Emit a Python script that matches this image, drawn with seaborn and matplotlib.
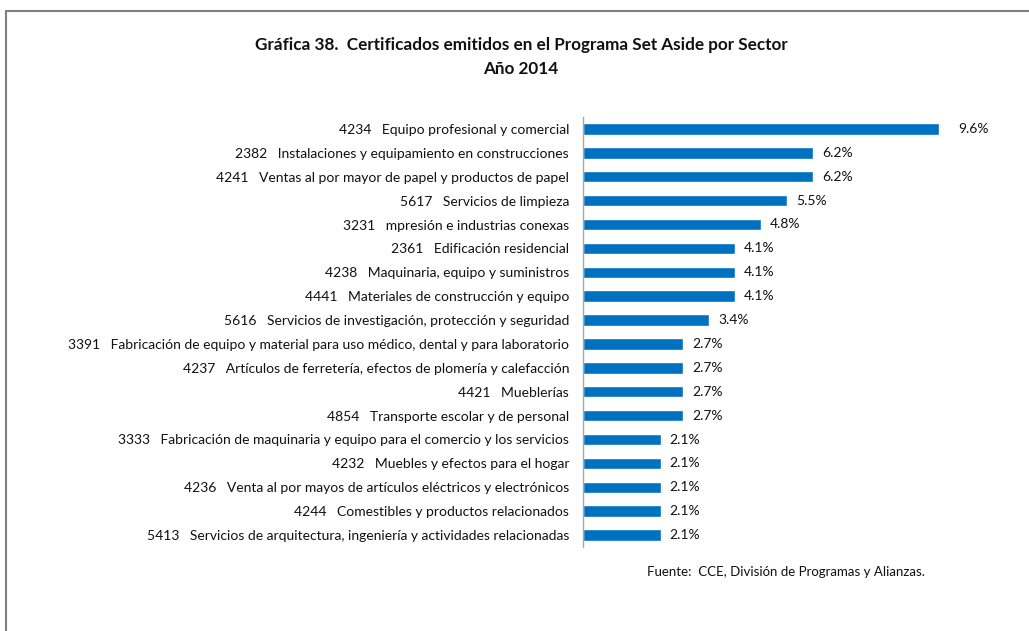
import matplotlib
matplotlib.use("Agg")
import matplotlib.pyplot as plt
from matplotlib.lines import Line2D
from matplotlib import font_manager
import seaborn as sns
import pandas as pd
import numpy as np

codes = ["4234", "2382", "4241", "5617", "3231", "2361", "4238", "4441", "5616",
         "3391", "4237", "4421", "4854", "3333", "4232", "4236", "4244", "5413"]
sectors = [
    "Equipo profesional y comercial",
    "Instalaciones y equipamiento en construcciones",
    "Ventas al por mayor de papel y productos de papel",
    "Servicios de limpieza",
    "mpresión e industrias conexas",
    "Edificación residencial",
    "Maquinaria, equipo y suministros",
    "Materiales de construcción y equipo",
    "Servicios de investigación, protección y seguridad",
    "Fabricación de equipo y material para uso médico, dental y para laboratorio",
    "Artículos de ferretería, efectos de plomería y calefacción",
    "Mueblerías",
    "Transporte escolar y de personal",
    "Fabricación de maquinaria y equipo para el comercio y los servicios",
    "Muebles y efectos para el hogar",
    "Venta al por mayos de artículos eléctricos y electrónicos",
    "Comestibles y productos relacionados",
    "Servicios de arquitectura, ingeniería y actividades relacionadas",
]
percent = [9.6, 6.2, 6.2, 5.5, 4.8, 4.1, 4.1, 4.1, 3.4,
           2.7, 2.7, 2.7, 2.7, 2.1, 2.1, 2.1, 2.1, 2.1]

title = "Gráfica 38.  Certificados emitidos en el Programa Set Aside por Sector\nAño 2014"
source = "Fuente:  CCE, División de Programas y Alianzas."

sns.set_theme(style="white")
installed = {f.name for f in font_manager.fontManager.ttflist}
family = next((f for f in ["Liberation Sans Narrow", "Lato", "Liberation Sans"] if f in installed),
              "DejaVu Sans")
plt.rcParams["font.family"] = [family, "DejaVu Sans"]

labels = [f"{c}   {s}" for c, s in zip(codes, sectors)]
df = pd.DataFrame({"sector": labels, "pct": percent})

W, H = 1029, 631
fig = plt.figure(figsize=(W / 100, H / 100), dpi=100)
fig.patch.set_facecolor("white")

# axes placed in pixel terms: left 583, top 117, bottom 547
ax_left, ax_right = 583, 991
ax_top, ax_bot = 117, 547
ax = fig.add_axes([ax_left / W, 1 - ax_bot / H, (ax_right - ax_left) / W, (ax_bot - ax_top) / H])

sns.barplot(data=df, x="pct", y="sector", orient="h", color="#0070C0",
            saturation=1, width=0.48, ax=ax)

ax.set_xlim(0, 11)
ax.set_ylim(len(labels) - 0.5, -0.5)
ax.set_xlabel("")
ax.set_ylabel("")
ax.set_xticks([])

for side in ["top", "right", "bottom"]:
    ax.spines[side].set_visible(False)
ax.spines["left"].set_color("#A6A6A6")
ax.spines["left"].set_linewidth(1.0)

ax.tick_params(axis="y", which="major", length=0, pad=10, labelsize=10, labelcolor="#111111")
ax.set_yticks(np.arange(-0.5, len(labels), 1.0), minor=True)
ax.tick_params(axis="y", which="minor", length=4, color="#A6A6A6", width=1.0)

for i, v in enumerate(percent):
    offset = 0.52 if v == max(percent) else 0.24
    ax.text(v + offset, i, f"{v:.1f}%", va="center", ha="left",
            fontsize=10, color="#111111")

fig.text(521 / W, 1 - 57 / H, title, ha="center", va="center", fontsize=12.3,
         fontweight="bold", color="#111111", linespacing=1.55)
fig.text(647 / W, 1 - 572 / H, source, ha="left", va="center", fontsize=9.5,
         color="#111111")

# outer frame: top and left edges
fig.add_artist(Line2D([6 / W, 1], [1 - 11 / H, 1 - 11 / H], transform=fig.transFigure,
                      color="#808080", lw=1.5))
fig.add_artist(Line2D([6 / W, 6 / W], [0, 1 - 11 / H], transform=fig.transFigure,
                      color="#808080", lw=1.5))

fig.savefig("out.png", dpi=100, facecolor="white")
